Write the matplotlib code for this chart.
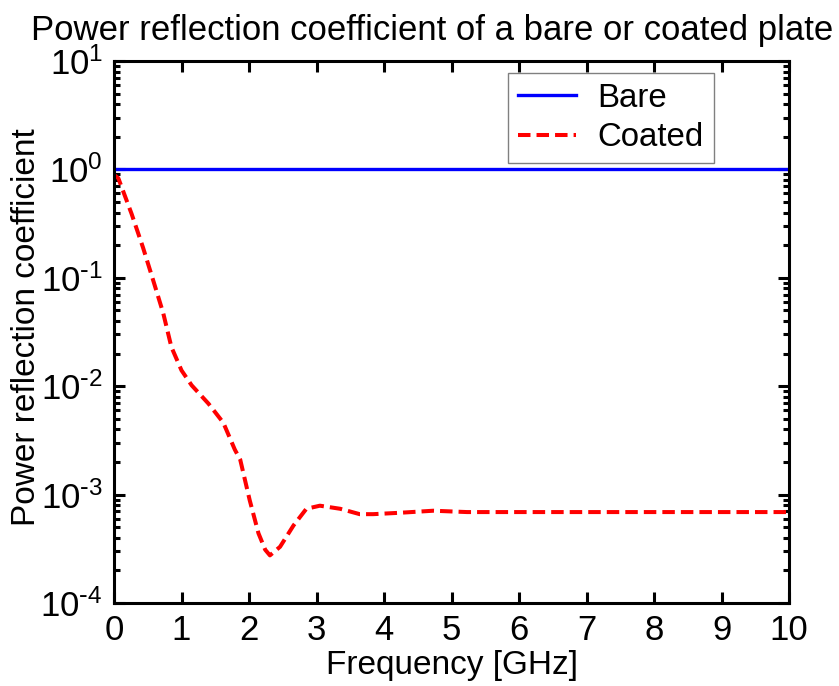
import numpy as np
import matplotlib
matplotlib.use('Agg')
import matplotlib.pyplot as plt
from matplotlib.ticker import FuncFormatter

plt.rcParams['font.family'] = ['Liberation Sans', 'DejaVu Sans']
plt.rcParams['mathtext.default'] = 'regular'

# Donnees
freq_bare = [0, 10]
r_bare = [1.0, 1.0]

freq_coated = [0.0, 0.064, 0.26, 0.43, 0.58, 0.73, 0.85, 1.0, 1.15, 1.40, 1.62,
               1.79, 1.87, 2.01, 2.14, 2.24, 2.31, 2.46, 2.66, 2.85, 3.05, 3.35,
               3.64, 3.84, 4.24, 4.73, 5.23, 6.0, 7.0, 8.0, 9.0, 10.0]
r_coated = [0.89, 0.83, 0.39, 0.19, 0.095, 0.047, 0.023, 0.014, 0.0102, 0.0069, 0.0046,
            0.0026, 0.0021, 8.9e-4, 4.4e-4, 3.1e-4, 2.75e-4, 3.3e-4, 5.2e-4, 7.4e-4, 7.9e-4, 7.4e-4,
            6.6e-4, 6.6e-4, 6.8e-4, 7.1e-4, 6.9e-4, 6.9e-4, 6.9e-4, 6.9e-4, 6.9e-4, 6.9e-4]


def format_puissance(v, pos):
    e = int(round(np.log10(v)))
    if e < 0:
        return r'$\mathdefault{10^{\text{-}%d}}$' % (-e)
    return r'$\mathdefault{10^{%d}}$' % e


fig = plt.figure(figsize=(8.39, 6.86), dpi=100)
ax = fig.add_axes([114/839, 1 - 603/686, 675/839, 542/686])

ax.semilogy(freq_bare, r_bare, color='#0000ff', lw=2.4, label='Bare')
ax.semilogy(freq_coated, r_coated, color='#ff0000', lw=2.9, dashes=(3.1, 1.5), label='Coated')

ax.set_xlim(0, 10)
ax.set_ylim(1e-4, 1e1)
ax.set_xticks(range(11))
ax.yaxis.set_major_formatter(FuncFormatter(format_puissance))

for s in ax.spines.values():
    s.set_linewidth(2.2)
ax.tick_params(which='both', direction='in', top=True, right=True, labelsize=25, width=2.2)
ax.tick_params(which='major', length=8, pad=8)
ax.tick_params(which='minor', length=4)
ax.tick_params(axis='x', which='minor', bottom=False, top=False)

ax.set_xlabel('Frequency [GHz]', fontsize=24, labelpad=2)
ax.set_ylabel('Power reflection coefficient', fontsize=24)
ax.yaxis.set_label_coords(-0.106, 0.509)
ax.set_title('Power reflection coefficient of a bare or coated plate', fontsize=25, x=0.471, pad=15)

leg = ax.legend(loc='upper left', bbox_to_anchor=(0.584, 0.978), borderaxespad=0,
                fontsize=23.8, fancybox=False, framealpha=1, edgecolor='#808080',
                handlelength=1.75, handletextpad=0.65, labelspacing=0.25, borderpad=0.3)
leg.get_frame().set_linewidth(1.0)

fig.savefig('out.png', dpi=100)
